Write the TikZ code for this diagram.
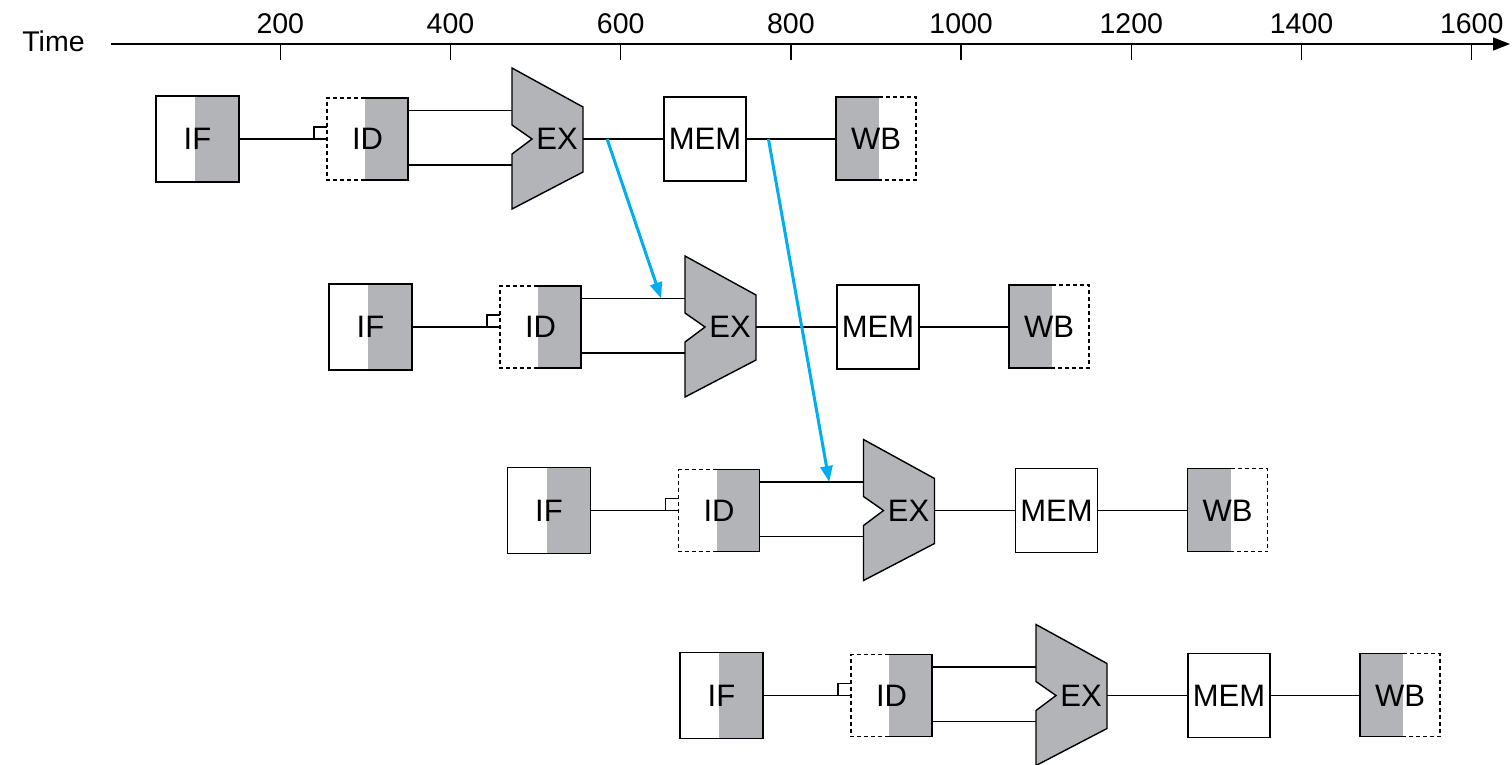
\documentclass[tikz,border=0pt]{standalone}
\usepackage{fontspec}
\setmainfont{Liberation Sans}
\usetikzlibrary{arrows.meta,calc}

\definecolor{stagegray}{RGB}{179,180,184}
\definecolor{fwdblue}{RGB}{0,174,239}

\tikzset{
  wire/.style={line width=1.4pt, black},
  solidframe/.style={line width=1.4pt, black},
  dashedframe/.style={line width=1.4pt, black, dash pattern=on 4pt off 3pt},
  stagelabel/.style={inner sep=0pt, font=\fontsize{31pt}{33pt}\selectfont},
  ticklabel/.style={inner sep=0pt, anchor=base, font=\fontsize{28.5pt}{30pt}\selectfont},
  fwd/.style={fwdblue, line width=3pt, -{Triangle[length=16pt,width=12pt]}},
}

% One instruction flowing through IF, ID, EX, MEM, WB.
% #1 = row tag, #2 = horizontal offset, #3 = vertical centre
\newcommand\piperow[3]{%
\begin{scope}[shift={(#2,#3)}]
  % IF: right half shaded
  \fill[stagegray] (195,-43) rectangle (239,43);
  \node[solidframe, draw, minimum width=83pt, minimum height=86pt, stagelabel] (IF#1) at (197.5,0) {IF};
  % ID: left half dashed, right half shaded
  \fill[stagegray] (365,-41) rectangle (408,41);
  \draw[solidframe] (365,-41) -- (408,-41) -- (408,41) -- (365,41);
  \draw[dashedframe] (365,-41) -- (327,-41) -- (327,41) -- (365,41);
  \node[minimum width=81pt, minimum height=82pt, stagelabel] (ID#1) at (367.5,0) {ID};
  % IF -> ID with register flag
  \draw[wire] (IF#1.east) -- (ID#1.west);
  \coordinate (flag#1) at (314,0);
  \draw[wire] (flag#1) -- ++(0,-12) -- (ID#1.west |- 0,-12);
  % EX: ALU outline
  \filldraw[solidframe, fill=stagegray] (512,-71) -- (583,-32) -- (583,33) -- (512,70)
     -- (512,15) -- (532,0) -- (512,-14) -- cycle;
  \node[stagelabel] (EX#1) at (557,0) {EX};
  \coordinate (EXa#1) at (512,-28.5);
  \coordinate (EXb#1) at (512,26);
  \coordinate (EXo#1) at (583,0);
  \draw[wire] (ID#1.east |- EXa#1) -- (EXa#1);
  \draw[wire] (ID#1.east |- EXb#1) -- (EXb#1);
  % MEM
  \node[solidframe, draw, minimum width=82pt, minimum height=84pt, stagelabel] (MEM#1) at (705,0) {MEM};
  \draw[wire] (EXo#1) -- (MEM#1.west);
  % WB: left half shaded, right half dashed
  \fill[stagegray] (836,-42) rectangle (879,41);
  \draw[solidframe] (879,-42) -- (836,-42) -- (836,41) -- (879,41);
  \draw[dashedframe] (879,-42) -- (916,-42) -- (916,41) -- (879,41);
  \node[minimum width=80pt, minimum height=83pt, stagelabel] (WB#1) at (876,0) {WB};
  \draw[wire] (MEM#1.east) -- (WB#1.west);
\end{scope}}

\begin{document}
\begin{tikzpicture}[x=1pt, y=-1pt]
  \useasboundingbox (0,0) rectangle (1512,764);

  % time axis
  \node[ticklabel] (timelbl) at (53.5,51) {Time};
  \coordinate (ax0) at (111,44);
  \coordinate (ax1) at (1510,44);
  \draw[wire, -{Triangle[length=17pt,width=13pt]}] (ax0) -- (ax1);
  \foreach \t in {200,400,...,1600} {
    \draw[wire] ({110.1+0.851*\t},44) -- ++(0,16);
    \node[ticklabel] (tick\t) at ({110.1+0.851*\t},33) {\t};
  }

  % four overlapped instructions
  \piperow{1}{0}{139}
  \piperow{2}{173}{327}
  \piperow{3}{351.5}{510.5}
  \piperow{4}{524}{695.5}

  % forwarding paths
  \draw[fwd] ($(EXo1)!0.3!(MEM1.west)$) -- ($(ID2.east |- EXa2)!0.77!(EXa2)$);
  \draw[fwd] ($(MEM1.east)!0.244!(WB1.west)$) -- ($(ID3.east |- EXa3)!0.67!(EXa3)$);
\end{tikzpicture}
\end{document}
